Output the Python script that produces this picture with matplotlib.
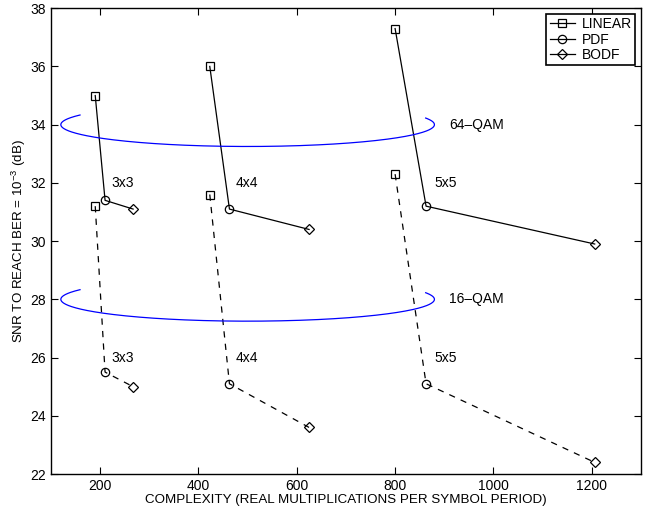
import numpy as np
import matplotlib
matplotlib.use("Agg")
import matplotlib.pyplot as plt

plt.rcParams['font.family'] = ['Liberation Sans', 'DejaVu Sans']
plt.rcParams['mathtext.fontset'] = 'custom'
plt.rcParams['mathtext.rm'] = 'Liberation Sans'

sizes = ["3x3", "4x4", "5x5"]
# complexity for LINEAR, PDF, BODF per antenna size
cx = {"3x3": [190, 210, 267], "4x4": [423, 463, 625], "5x5": [800, 863, 1206]}
snr_64 = {"3x3": [35.0, 31.4, 31.1], "4x4": [36.0, 31.1, 30.4], "5x5": [37.3, 31.2, 29.9]}
snr_16 = {"3x3": [31.2, 25.5, 25.0], "4x4": [31.6, 25.1, 23.6], "5x5": [32.3, 25.1, 22.4]}
label_x = {"3x3": 223, "4x4": 476, "5x5": 881}
label_y_64 = 32.0
label_y_16 = 26.0
qam_levels = [34, 28]
qam_names = ["64\u2013QAM", "16\u2013QAM"]
methods = ["LINEAR", "PDF", "BODF"]
markers = ["s", "o", "D"]

fig = plt.figure(figsize=(6.58, 5.12), dpi=100)
ax = fig.add_axes([0.0775, 0.0742, 0.8965, 0.9098])

for snr, ls in [(snr_64, "-"), (snr_16, (0, (5, 5)))]:
    for s in sizes:
        ax.plot(cx[s], snr[s], color="black", lw=0.9, linestyle=ls)
        for i in range(3):
            ax.plot(cx[s][i], snr[s][i], linestyle="none", marker=markers[i],
                    markersize=6 if i != 2 else 5.5, mfc="none", mec="black", mew=0.9)

for s in sizes:
    ax.text(label_x[s], label_y_64, s, fontsize=10, va="center")
    ax.text(label_x[s], label_y_16, s, fontsize=10, va="center")

# ellipses around each modulation group
t = np.radians(np.linspace(153.8, 377.6, 300))
for lvl, name in zip(qam_levels, qam_names):
    ax.plot(500 + 380 * np.cos(t), lvl + 0.75 * np.sin(t), color="blue", lw=0.9)
    ax.text(910, lvl, name, fontsize=10, va="center")

# legend proxies
for m, mk in zip(methods, markers):
    ax.plot([], [], color="black", lw=0.9, marker=mk, markersize=6 if mk != "D" else 5.5,
            mfc="none", mec="black", mew=0.9, label=m)
leg = ax.legend(loc="upper right", fontsize=10, fancybox=False, framealpha=1,
                edgecolor="black", borderaxespad=0.4, handlelength=1.8,
                handletextpad=0.5, borderpad=0.25, labelspacing=0.1)
leg.get_frame().set_linewidth(1.2)

ax.set_xlim(100, 1300)
ax.set_ylim(22, 38)
ax.set_xticks([200, 400, 600, 800, 1000, 1200])
ax.set_yticks(np.arange(22, 39, 2))
ax.tick_params(direction="in", top=True, right=True, labelsize=10, length=5)
for sp in ax.spines.values():
    sp.set_linewidth(1.0)
ax.set_xlabel("COMPLEXITY (REAL MULTIPLICATIONS PER SYMBOL PERIOD)", fontsize=9.6, labelpad=1)
ax.set_ylabel("SNR TO REACH BER = $10^{-3}$ (dB)", fontsize=9.6, labelpad=2)

fig.savefig("out.png", dpi=100)
